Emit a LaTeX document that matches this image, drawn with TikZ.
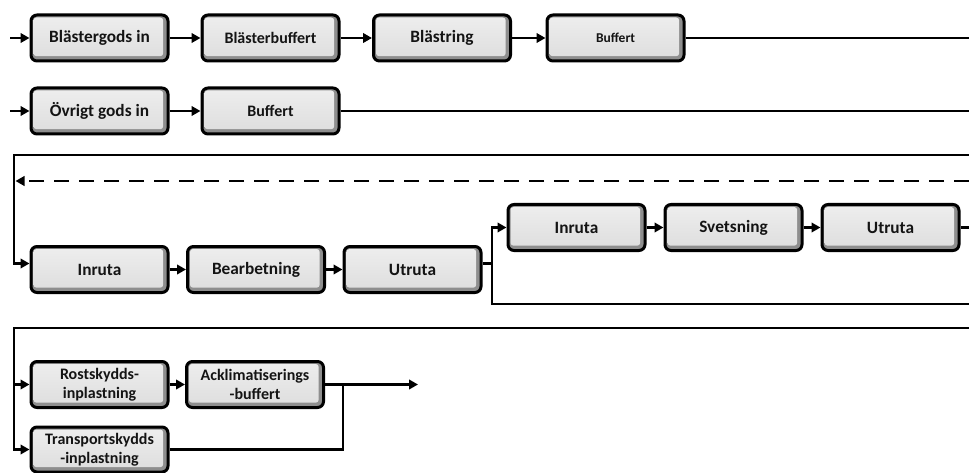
\documentclass[tikz,border=0pt]{standalone}
\usepackage{fontspec}
\setmainfont{Carlito}
\usetikzlibrary{arrows.meta}
\definecolor{bevel}{HTML}{8E8E8E}
\definecolor{facetop}{HTML}{EEEEEE}
\definecolor{facebot}{HTML}{DDDDDD}
\definecolor{ink}{HTML}{141414}
\tikzset{
  stage/.style={draw=black, line width=3pt, rounded corners=6pt, fill=bevel,
    minimum width=137pt, minimum height=46pt, inner sep=0pt, align=center,
    text=ink, font=\bfseries\fontsize{17.3}{19}\selectfont,
    path picture={\shade[top color=facetop, bottom color=facebot, rounded corners=3pt]
      ([shift={(2.5pt,-2.5pt)}]path picture bounding box.north west) rectangle
      ([shift={(-4.8pt,4.8pt)}]path picture bounding box.south east);}},
  midtext/.style={font=\bfseries\fontsize{16}{18.5}\selectfont},
  smalltext/.style={font=\bfseries\fontsize{13.5}{15}\selectfont},
  flow/.style={draw=black, line width=2.8pt},
  arr/.style={flow, -{Triangle[length=9pt,width=9.5pt]}},
  dashflow/.style={arr, dash pattern=on 15pt off 10pt}
}
\begin{document}
\begin{tikzpicture}[x=1pt,y=-1pt]
\useasboundingbox (0,0) rectangle (969,473);

% blasting line
\coordinate (a0) at (10,38);
\coordinate (aEnd) at (969,38);
\node[stage] (a1) at (99.5,38) {Blästergods in};
\node[stage, midtext] (a2) at (270.5,38) {Blästerbuffert};
\node[stage] (a3) at (442,38) {Blästring};
\node[stage, smalltext] (a4) at (615.5,38) {Buffert};
\draw[arr] (a0) -- (a1);
\draw[arr] (a1) -- (a2);
\draw[arr] (a2) -- (a3);
\draw[arr] (a3) -- (a4);
\draw[flow] (a4) -- (aEnd);

% other goods
\coordinate (b0) at (10,111);
\coordinate (bEnd) at (969,111);
\node[stage] (b1) at (99.5,111) {Övrigt gods in};
\node[stage, midtext] (b2) at (270.5,111) {Buffert};
\draw[arr] (b0) -- (b1);
\draw[arr] (b1) -- (b2);
\draw[flow] (b2) -- (bEnd);

% machining and welding
\coordinate (topR) at (969,155);
\coordinate (topL) at (14,155);
\coordinate (dashR) at (969,181);
\coordinate (dashL) at (15.5,181);
\node[stage] (c1) at (99.5,269.5) {Inruta};
\node[stage] (c2) at (256,269.5) {Bearbetning};
\node[stage] (c3) at (412.5,269.5) {Utruta};
\node[stage] (d1) at (576.5,227.5) {Inruta};
\node[stage] (d2) at (733.5,227.5) {Svetsning};
\node[stage] (d3) at (890.5,227.5) {Utruta};
\coordinate (split) at (492,263.5);
\coordinate (bypass) at (969,304);
\coordinate (dEnd) at (969,227.5);
\draw[arr] (topR) -- (topL) |- ([yshift=6pt]c1.west);
\draw[dashflow] (dashR) -- (dashL);
\draw[arr] (c1) -- (c2);
\draw[arr] (c2) -- (c3);
\draw[flow] ([yshift=6pt]c3.east) -- (split);
\draw[arr] (split) |- (d1.west);
\draw[flow] (split) |- (bypass);
\draw[arr] (d1) -- (d2);
\draw[arr] (d2) -- (d3);
\draw[flow] (d3) -- (dEnd);

% protective wrapping
\coordinate (r4R) at (969,328);
\coordinate (r4L) at (14,328);
\node[stage, midtext] (e1) at (99.5,384.5) {Rostskydds-\\inplastning};
\node[stage, midtext] (e2) at (255,384.5) {Acklimatiserings\\-buffert};
\node[stage, midtext, minimum height=45pt] (e3) at (99.5,449.5) {Transportskydds\\-inplastning};
\coordinate (merge) at (343,384.5);
\coordinate (outEnd) at (418,384.5);
\draw[arr] (r4R) -- (r4L) |- (e3.west);
\draw[arr] (r4L |- e1.west) -- (e1.west);
\draw[arr] (e1) -- (e2);
\draw[arr] (e2) -- (outEnd);
\draw[flow] (e3) -| (merge);
\end{tikzpicture}
\end{document}
